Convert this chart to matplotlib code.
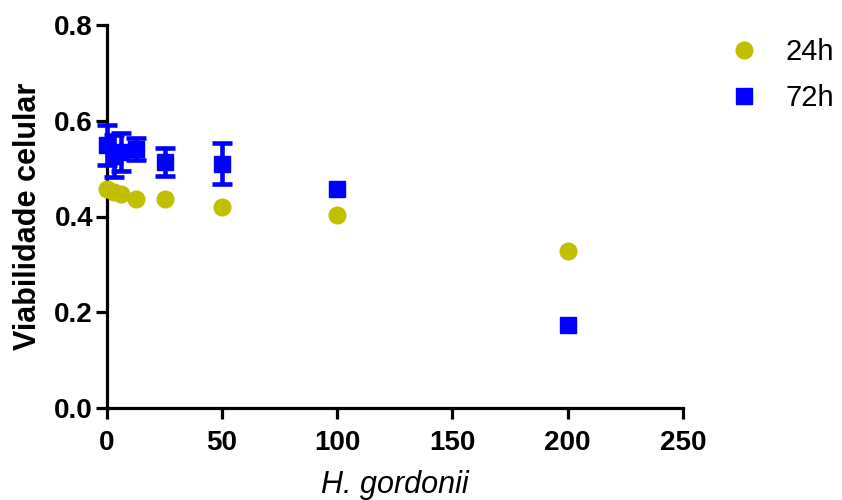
import matplotlib
matplotlib.use("Agg")
import matplotlib.pyplot as plt
from matplotlib.lines import Line2D

# Concentrations of H. gordonii and cell viability
conc = [0, 3.125, 6.25, 12.5, 25, 50, 100, 200]
viab_24h = [0.457, 0.452, 0.447, 0.437, 0.437, 0.420, 0.403, 0.328]
err_24h = [0.0, 0.0, 0.0, 0.0, 0.0, 0.0, 0.0, 0.0]
viab_72h = [0.549, 0.526, 0.534, 0.541, 0.514, 0.510, 0.457, 0.173]
err_72h = [0.042, 0.044, 0.040, 0.022, 0.029, 0.043, 0.0, 0.0]

series_names = ["24h", "72h"]
x_ticks = [0, 50, 100, 150, 200, 250]
y_ticks = [0.0, 0.2, 0.4, 0.6, 0.8]

plt.rcParams["font.family"] = ["Liberation Sans", "DejaVu Sans"]

fig = plt.figure(figsize=(8.42, 5.0), dpi=100)
ax = fig.add_axes([0.127, 0.184, 0.684, 0.766])

c24 = "#C2BE00"
c72 = "#0000FF"


def draw_series(x, y, err, marker, color, ms, z):
    # error bars only where a spread was measured
    xe = [xi for xi, e in zip(x, err) if e > 0]
    ye = [yi for yi, e in zip(y, err) if e > 0]
    ee = [e for e in err if e > 0]
    if ee:
        cont = ax.errorbar(xe, ye, yerr=ee, fmt="none", ecolor=color,
                           elinewidth=3.3, capsize=7.5, capthick=3.3, zorder=z)
        for art in cont.lines[1] + cont.lines[2]:
            art.set_clip_on(False)
    ax.plot(x, y, linestyle="none", marker=marker, color=color, ms=ms,
            zorder=z, clip_on=False)


draw_series(conc, viab_24h, err_24h, "o", c24, 12, 3)
draw_series(conc, viab_72h, err_72h, "s", c72, 11, 4)

ax.set_xlim(0, 250)
ax.set_ylim(0, 0.8)
ax.set_xticks(x_ticks)
ax.set_yticks(y_ticks)
ax.set_xticklabels([str(t) for t in x_ticks])
ax.set_yticklabels([f"{t:.1f}" for t in y_ticks])

for side in ("top", "right"):
    ax.spines[side].set_visible(False)
for side in ("left", "bottom"):
    ax.spines[side].set_linewidth(2.3)
    ax.spines[side].set_clip_on(False)
    ax.spines[side].set_zorder(2)

ax.tick_params(axis="both", which="major", direction="out", length=8, width=2.3,
               labelsize=20)
ax.tick_params(axis="x", pad=8)
ax.tick_params(axis="y", pad=2)
for lab in ax.get_xticklabels() + ax.get_yticklabels():
    lab.set_fontweight("bold")

ax.set_ylabel("Viabilidade celular", fontsize=22, fontweight="bold", labelpad=8)
ax.set_xlabel("H. gordonii", fontsize=22, fontstyle="italic", labelpad=10)

handles = [
    Line2D([], [], marker="o", color=c24, linestyle="none", ms=12),
    Line2D([], [], marker="s", color=c72, linestyle="none", ms=11),
]
leg = fig.legend(handles, series_names, loc="upper left",
                 bbox_to_anchor=(0.832, 0.976), frameon=False, fontsize=21,
                 handletextpad=0.8, labelspacing=0.6, handlelength=1.2)

fig.savefig("out.png", dpi=100)
